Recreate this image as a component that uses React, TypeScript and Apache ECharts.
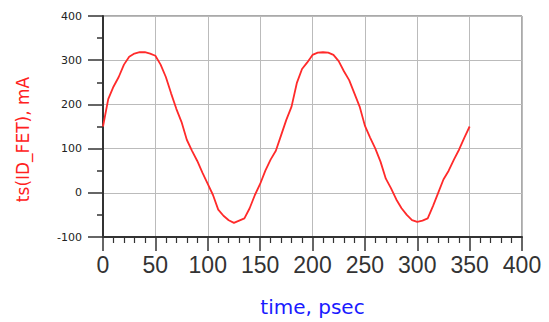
import React, { useEffect, useRef } from "react";
import * as echarts from "echarts";

const timePs: number[] = [
  0, 5, 10, 15, 20, 25, 30, 35, 40, 45, 50, 55, 60, 65, 70, 75, 80, 85, 90, 95,
  100, 105, 110, 115, 120, 125, 130, 135, 140, 145, 150, 155, 160, 165, 170, 175,
  180, 185, 190, 195, 200, 205, 210, 215, 220, 225, 230, 235, 240, 245, 250, 255,
  260, 265, 270, 275, 280, 285, 290, 295, 300, 305, 310, 315, 320, 325, 330, 335,
  340, 345, 350,
];
const idFetMa: number[] = [
  150, 212, 240, 262, 290, 308, 315, 318, 318, 315, 310, 290, 262, 225, 190, 160,
  120, 95, 72, 45, 20, -5, -38, -52, -62, -68, -63, -58, -35, -5, 20, 50, 75, 95,
  130, 165, 195, 248, 280, 295, 312, 317, 318, 317, 312, 298, 275, 255, 225, 195,
  152, 125, 100, 70, 32, 10, -15, -35, -50, -62, -66, -63, -58, -30, 0, 30, 50,
  75, 98, 125, 150,
];
const xAxisName = "time, psec";
const yAxisName = "ts(ID_FET), mA";

export default function App() {
  const ref = useRef<HTMLDivElement>(null);
  useEffect(() => {
    if (!ref.current) return;
    const chart = echarts.init(ref.current, undefined, { renderer: "svg" });
    chart.setOption({
      animation: false,
      backgroundColor: "#ffffff",
      grid: {
        left: 103,
        right: 27,
        top: 16,
        bottom: 85,
        show: true,
        borderColor: "#555555",
        borderWidth: 1,
      },
      xAxis: {
        type: "value",
        min: 0,
        max: 400,
        interval: 50,
        name: xAxisName,
        nameLocation: "middle",
        nameGap: 60,
        nameTextStyle: { color: "#1a1aff", fontSize: 20, fontFamily: "DejaVu Sans" },
        axisLine: { show: true, onZero: false, lineStyle: { color: "#333333", width: 2 } },
        axisTick: { show: true, length: 14, lineStyle: { color: "#333333", width: 1.5 } },
        minorTick: { show: true, splitNumber: 5, length: 6, lineStyle: { color: "#333333", width: 1.2 } },
        axisLabel: { color: "#333333", fontSize: 23, fontFamily: "Liberation Sans", margin: 16 },
        splitLine: { show: true, lineStyle: { color: "#bbbbbb", width: 1 } },
      },
      yAxis: {
        type: "value",
        min: -100,
        max: 400,
        interval: 100,
        name: yAxisName,
        nameLocation: "middle",
        nameGap: 72,
        nameRotate: 90,
        nameTextStyle: {
          color: "#ff2020",
          fontSize: 17,
          fontFamily: "DejaVu Sans",
          padding: [0, 26, 0, 0],
        },
        axisLine: { show: true, lineStyle: { color: "#333333", width: 2 } },
        axisTick: { show: true, length: 15, lineStyle: { color: "#333333", width: 1.5 } },
        minorTick: { show: true, splitNumber: 2, length: 6, lineStyle: { color: "#333333", width: 1.5 } },
        axisLabel: { color: "#222222", fontSize: 11, fontFamily: "DejaVu Sans", margin: 21 },
        splitLine: { show: true, lineStyle: { color: "#bbbbbb", width: 1 } },
      },
      series: [
        {
          type: "line",
          data: timePs.map((t, i) => [t, idFetMa[i]]),
          showSymbol: false,
          symbol: "none",
          lineStyle: { color: "#ff2a2a", width: 1.8 },
        },
      ],
    });
    return () => chart.dispose();
  }, []);
  return (
    <div
      ref={ref}
      style={{ position: "fixed", left: 0, top: 0, width: 549, height: 322 }}
    />
  );
}
